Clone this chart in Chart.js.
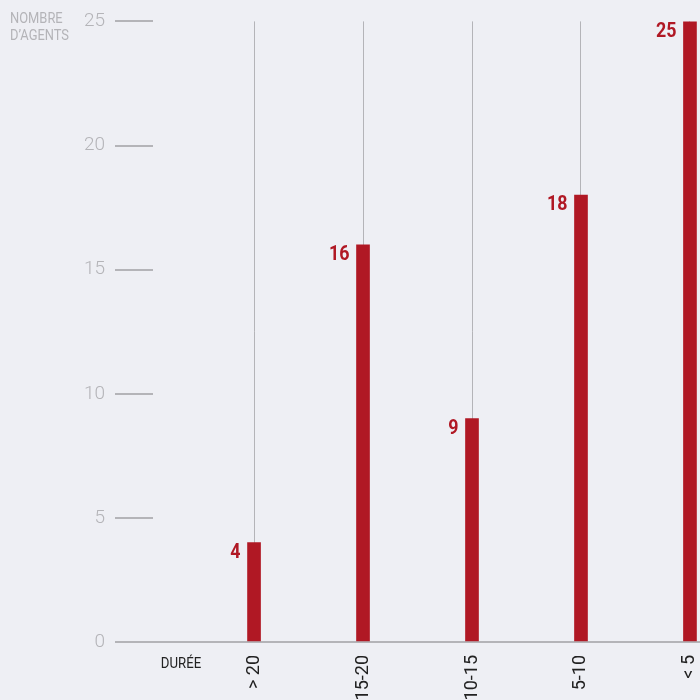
<!DOCTYPE html>
<html lang="fr">
  <head>
    <meta charset="utf-8" />
    <title>Nombre d'agents par durée</title>
    <style>
      * {
        margin: 0;
        padding: 0;
      }
      body {
        background: #eeeff4;
      }
      .chartBox {
        width: 700px;
        height: 700px;
      }
    </style>
  </head>
  <body>
    <div class="chartBox">
      <canvas id="myChart"></canvas>
    </div>

    <script src="https://cdn.jsdelivr.net/npm/chart.js"></script>

    <script>
      const durations = ["> 20", "15-20", "10-15", "5-10", "< 5"];
      const agents = [4, 16, 9, 18, 25];
      const yTicks = [0, 5, 10, 15, 20, 25];

      const red = "#b01824";
      const grey = "#b4b4b8";

      // condensed look: squeeze Roboto horizontally
      const narrowText = (ctx, text, x, y, sx) => {
        ctx.save();
        ctx.translate(x, y);
        ctx.scale(sx, 1);
        ctx.fillText(text, 0, 0);
        ctx.restore();
      };

      // labels drawn next to the top of each bar + axis captions
      const extraText = {
        id: "extraText",
        afterDatasetsDraw(chart) {
          const { ctx } = chart;
          const meta = chart.getDatasetMeta(0);
          ctx.save();
          ctx.fillStyle = red;
          ctx.font = "bold 21px Roboto";
          ctx.textAlign = "right";
          ctx.textBaseline = "middle";
          meta.data.forEach((bar, i) => {
            narrowText(ctx, agents[i], bar.x - bar.width / 2 - 7, bar.y + 10, 0.85);
          });

          ctx.fillStyle = grey;
          ctx.font = "15px Roboto";
          ctx.textAlign = "left";
          ctx.textBaseline = "alphabetic";
          narrowText(ctx, "NOMBRE", 10, 23, 0.86);
          narrowText(ctx, "D\u2019AGENTS", 10, 40, 0.86);

          ctx.fillStyle = "#222";
          ctx.textAlign = "center";
          const x = chart.scales.x.getPixelForValue(-0.67);
          narrowText(ctx, "DURÉE", x, 668, 0.88);
          ctx.restore();
        },
      };

      const data = {
        datasets: [
          {
            data: agents.map((v, i) => ({ x: i, y: v })),
            backgroundColor: red,
            barThickness: 13,
          },
        ],
      };

      const config = {
        type: "bar",
        data: data,
        options: {
          responsive: true,
          maintainAspectRatio: false,
          animation: false,
          layout: { padding: { top: 20, right: 0, left: 0, bottom: 0 } },
          plugins: {
            legend: { display: false },
            tooltip: { enabled: false },
          },
          scales: {
            x: {
              type: "linear",
              offset: false,
              min: -0.927,
              max: 4.092,
              afterBuildTicks: (axis) => {
                axis.ticks = durations.map((_, i) => ({ value: i }));
              },
              afterFit: (axis) => {
                axis.height = 58;
                axis.paddingLeft = 0;
                axis.paddingRight = 0;
              },
              grid: {
                offset: false,
                color: grey,
                lineWidth: 1,
                drawTicks: false,
              },
              border: { color: grey, width: 2 },
              ticks: {
                autoSkip: false,
                minRotation: 90,
                maxRotation: 90,
                padding: 13,
                color: "#222",
                font: { family: "Roboto", size: 18 },
                callback: (v) => durations[v],
              },
            },
            y: {
              min: 0,
              max: 25,
              afterBuildTicks: (axis) => {
                axis.ticks = yTicks.map((v) => ({ value: v }));
              },
              afterFit: (axis) => {
                axis.width = 153;
              },
              grid: {
                drawOnChartArea: false,
                drawTicks: true,
                tickLength: 38,
                color: grey,
                lineWidth: 2,
              },
              border: { display: false },
              ticks: {
                padding: 10,
                color: grey,
                font: { family: "Roboto", size: 19, weight: 300 },
              },
            },
          },
        },
        plugins: [extraText],
      };

      const myChart = new Chart(document.getElementById("myChart"), config);
    </script>
  </body>
</html>
